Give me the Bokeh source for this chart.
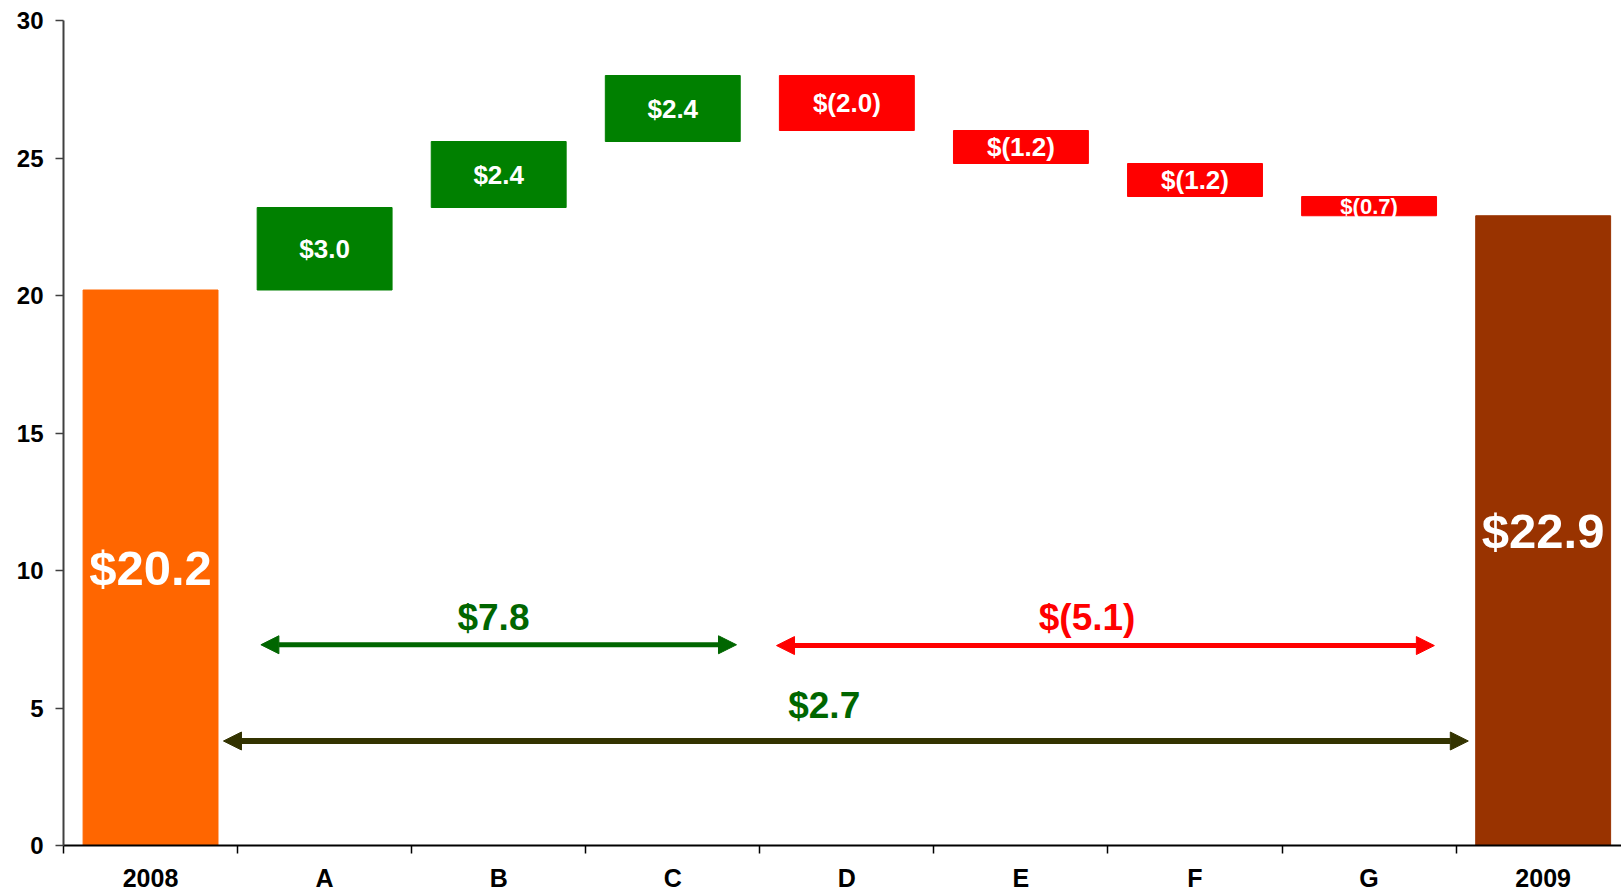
from bokeh.plotting import figure
from bokeh.models import Range1d, FixedTicker, Arrow, NormalHead, ColumnDataSource, Label
from bokeh.embed import file_html
from bokeh.resources import INLINE
from bokeh.core.properties import value

# ---------------- data ----------------
categories = ["2008", "A", "B", "C", "D", "E", "F", "G", "2009"]
start_value = 20.2
changes = [3.0, 2.4, 2.4, -2.0, -1.2, -1.2, -0.7]
end_value = 22.9
y_ticks = [0, 5, 10, 15, 20, 25, 30]

# ---------------- styles ----------------
FONT = "Liberation Sans"
C_START = "#FF6600"
C_END = "#993300"
C_UP = "#008000"
C_DOWN = "#FF0000"
C_UP_TXT = "#006600"
C_TOTAL_ARROW = "#333300"


def fmt(v):
    return f"${v:.1f}" if v >= 0 else f"$({abs(v):.1f})"


n = len(categories)
xs = [i + 0.5 for i in range(n)]
bottoms, tops, colors = [0.0], [start_value], [C_START]
level = start_value
for c in changes:
    new = round(level + c, 6)
    bottoms.append(min(level, new))
    tops.append(max(level, new))
    colors.append(C_UP if c > 0 else C_DOWN)
    level = new
bottoms.append(0.0)
tops.append(end_value)
colors.append(C_END)

bars = ColumnDataSource(dict(x=xs, bottom=bottoms, top=tops, color=colors))

p = figure(width=1621, height=894, x_range=Range1d(0, 8.95), y_range=Range1d(0, 30),
           output_backend="svg", toolbar_location=None,
           min_border_left=63, min_border_right=0, min_border_top=20, min_border_bottom=49)
p.grid.visible = False
p.outline_line_color = None
p.background_fill_color = "white"
p.border_fill_color = "white"

p.vbar(x="x", bottom="bottom", top="top", width=0.775, color="color", source=bars)

# labels inside change boxes
chg_x = xs[1:-1]
chg_y = [(b + t) / 2 for b, t in zip(bottoms[1:-1], tops[1:-1])]
chg_txt = [fmt(c) for c in changes]
chg_size = ["26px" if abs(c) >= 1 else "22px" for c in changes]
p.text(x=chg_x, y=chg_y, text=chg_txt, text_font_size=chg_size,
       text_font=value(FONT), text_font_style="bold", text_color="white",
       text_align="center", text_baseline="middle")

# labels inside totals
p.text(x=[xs[0], xs[-1]], y=[start_value / 2, end_value / 2],
       text=[fmt(start_value), fmt(end_value)], text_font_size="49px",
       text_font=value(FONT), text_font_style="bold", text_color="white",
       text_align="center", text_baseline="middle")

# summary arrows
pos_sum = round(sum(c for c in changes if c > 0), 6)
neg_sum = round(sum(c for c in changes if c < 0), 6)
net = round(end_value - start_value, 6)


def add_arrow(x0, x1, y, color, lw):
    p.add_layout(Arrow(x_start=x0, x_end=x1, y_start=y, y_end=y,
                       line_color=color, line_width=lw,
                       start=NormalHead(size=18, fill_color=color, line_color=color),
                       end=NormalHead(size=18, fill_color=color, line_color=color)))


add_arrow(1.134, 3.866, 7.3, C_UP_TXT, 5)
add_arrow(4.096, 7.875, 7.27, C_DOWN, 5)
add_arrow(0.919, 8.07, 3.8, C_TOTAL_ARROW, 6)

for x, y, t, col in [(2.47, 8.3, fmt(pos_sum), C_UP_TXT),
                     (5.88, 8.3, fmt(neg_sum), C_DOWN),
                     (4.37, 5.08, fmt(net), C_UP_TXT)]:
    p.add_layout(Label(x=x, y=y, text=t, text_align="center", text_baseline="middle",
                       text_font=FONT, text_font_size="37px", text_font_style="bold",
                       text_color=col))

# x axis: labels at centres, ticks at boundaries
p.xaxis.ticker = FixedTicker(ticks=xs, minor_ticks=list(range(n + 1)))
p.xaxis.major_label_overrides = {x: c for x, c in zip(xs, categories)}
p.xaxis.major_tick_out = 0
p.xaxis.major_tick_in = 0
p.xaxis.minor_tick_out = 8
p.xaxis.minor_tick_in = 0
p.xaxis.minor_tick_line_color = "black"
p.xaxis.minor_tick_line_width = 1.5
p.xaxis.axis_line_color = "black"
p.xaxis.axis_line_width = 2
p.xaxis.major_label_standoff = 10
p.xaxis.major_label_text_font = FONT
p.xaxis.major_label_text_font_style = "bold"
p.xaxis.major_label_text_font_size = "25px"
p.xaxis.major_label_text_color = "black"

# y axis
p.yaxis.ticker = FixedTicker(ticks=y_ticks)
p.yaxis.major_tick_out = 8
p.yaxis.major_tick_in = 0
p.yaxis.minor_tick_out = 0
p.yaxis.minor_tick_in = 0
p.yaxis.major_tick_line_color = "#404040"
p.yaxis.major_tick_line_width = 1.5
p.yaxis.axis_line_color = "#404040"
p.yaxis.axis_line_width = 2
p.yaxis.major_label_standoff = 12
p.yaxis.major_label_text_font = FONT
p.yaxis.major_label_text_font_style = "bold"
p.yaxis.major_label_text_font_size = "24px"
p.yaxis.major_label_text_color = "black"

open("out.html", "w").write(file_html(p, INLINE))
